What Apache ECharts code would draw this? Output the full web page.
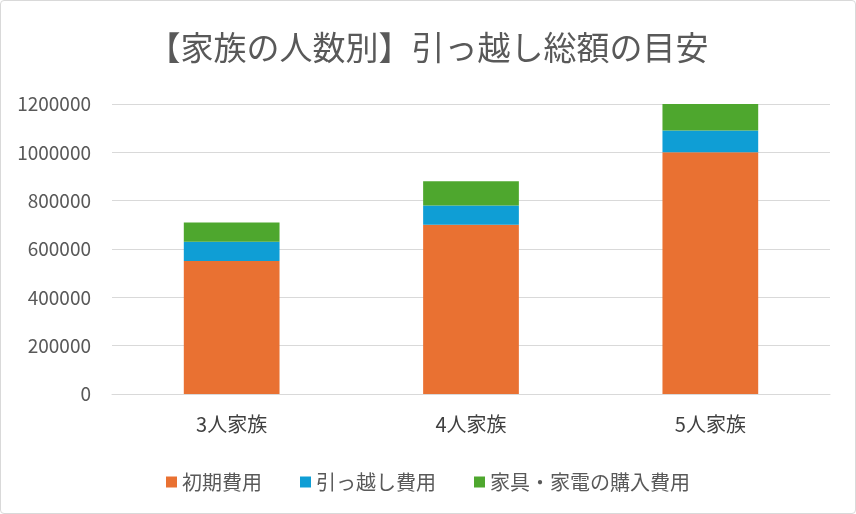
<!DOCTYPE html>
<html><head><meta charset="utf-8">
<script src="https://cdn.jsdelivr.net/npm/echarts@6/dist/echarts.min.js"></script>
<style>
html,body{margin:0;padding:0;background:#fff;}
#c{position:absolute;left:0;top:0;width:854px;height:512px;border:1px solid #d9d9d9;border-radius:4px;}
</style></head><body>
<div id="c"></div>
<script>
const categories = ['3人家族', '4人家族', '5人家族'];
const initialCost = [550000, 700000, 1000000];
const movingCost = [80000, 80000, 90000];
const furnitureCost = [80000, 100000, 110000];
const seriesNames = ['初期費用', '引っ越し費用', '家具・家電の購入費用'];
const titleText = '【家族の人数別】引っ越し総額の目安';

const font = '"Noto Sans CJK JP", "Noto Sans", sans-serif';
const chart = echarts.init(document.getElementById('c'));
chart.setOption({
  animation: false,
  textStyle: { fontFamily: font },
  title: {
    text: titleText, left: 'center', top: 25,
    textStyle: { fontFamily: font, fontSize: 33, fontWeight: 'normal', color: '#595959' }
  },
  legend: {
    top: 466, left: 'center', itemWidth: 11, itemHeight: 11, itemGap: 38, itemTextGap: 6,
    icon: 'rect',
    textStyle: { fontFamily: font, fontSize: 20, color: '#595959' },
    data: seriesNames
  },
  grid: { left: 111, right: 25, top: 103, bottom: 119, containLabel: false },
  xAxis: {
    type: 'category', data: categories,
    axisLine: { lineStyle: { color: '#d9d9d9' } },
    axisTick: { show: false },
    axisLabel: { fontSize: 20, color: '#404040', margin: 20 }
  },
  yAxis: {
    type: 'value', min: 0, max: 1200000, interval: 200000,
    axisLine: { show: false }, axisTick: { show: false },
    splitLine: { lineStyle: { color: '#d9d9d9' } },
    axisLabel: { fontSize: 19, color: '#595959', margin: 21, formatter: v => String(v) }
  },
  series: [
    { name: seriesNames[0], type: 'bar', stack: 'a', data: initialCost, barWidth: '40%', itemStyle: { color: '#E97132' } },
    { name: seriesNames[1], type: 'bar', stack: 'a', data: movingCost, barWidth: '40%', itemStyle: { color: '#0F9ED5' } },
    { name: seriesNames[2], type: 'bar', stack: 'a', data: furnitureCost, barWidth: '40%', itemStyle: { color: '#4EA72E' } }
  ]
});
</script>
</body></html>
